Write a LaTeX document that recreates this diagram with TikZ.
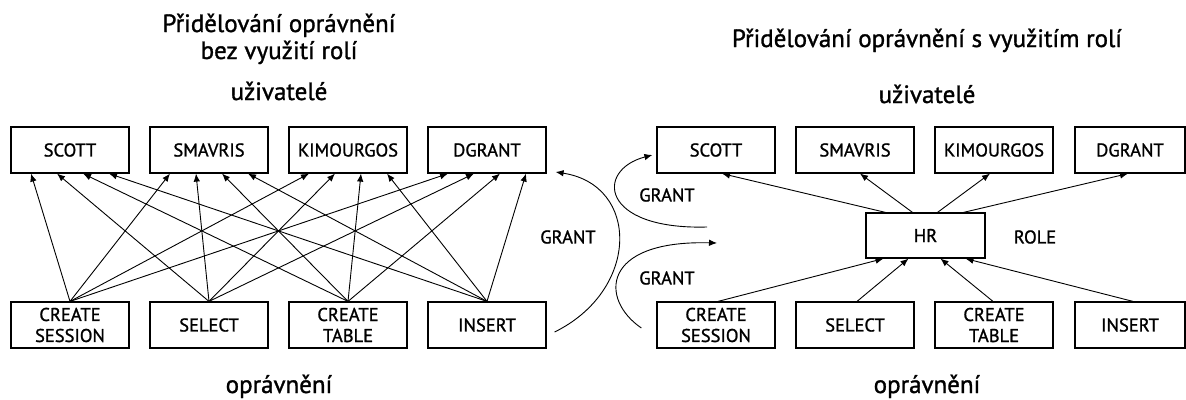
\documentclass[tikz,border=0pt]{standalone}
\usepackage{fontspec}
\setmainfont{PT Sans}[FakeBold=1.2]
\usetikzlibrary{arrows.meta,calc}
\newcommand\titlefont{\fontsize{25}{29}\selectfont}
\newcommand\boxfont{\fontsize{18.5}{21}\selectfont}
\begin{document}
\begin{tikzpicture}[x=1pt,y=-1pt,
  box/.style={draw, line width=1.2pt, minimum width=118pt, minimum height=46pt,
    inner sep=0pt, align=center, font=\boxfont},
  conn/.style={line width=0.9pt, -{Latex[length=8pt,width=6.5pt]}},
  grant/.style={line width=0.9pt, -{Latex[length=8pt,width=6.5pt]}},
  lbl/.style={font=\boxfont, inner sep=0pt},
  head/.style={font=\titlefont, inner sep=0pt, anchor=base}]
\useasboundingbox (0,0) rectangle (1186,399);

% ---------- without roles ----------
\node[head] (t1a) at (279,32) {Přidělování oprávnění};
\node[head] (t1b) at (279,59) {bez využití rolí};
\node[head] (u1) at (279,100) {uživatelé};
\node[head] (o1) at (279,393) {oprávnění};

\node[box] (scott)  at (70,150)  {SCOTT};
\node[box] (smav)   at (209,150) {SMAVRIS};
\node[box] (kimo)   at (348,150) {KIMOURGOS};
\node[box] (dgr)    at (487,150) {DGRANT};

\node[box] (sess)   at (70,325)  {CREATE\\SESSION};
\node[box] (sel)    at (209,325) {SELECT};
\node[box] (tab)    at (348,325) {CREATE\\TABLE};
\node[box] (ins)    at (487,325) {INSERT};

% each privilege goes to each user
\foreach \src [count=\i] in {sess,sel,tab,ins}{
  \pgfmathsetmacro\off{-39+26*(\i-1)}
  \foreach \dst in {scott,smav,kimo,dgr}{
    \draw[conn] (\src.north) -- ([xshift=\off pt]\dst.south);
  }
}

% GRANT arc from the privileges to the users
\coordinate (g1s) at ([xshift=8pt,yshift=-7pt]ins.east);
\coordinate (g1e) at ([xshift=9pt,yshift=-22pt]dgr.east);
\draw[grant] (g1s) .. controls (640,290) and (640,185) .. (g1e);
\node[lbl] (g1) at (568,237) {GRANT};

% ---------- with roles ----------
\node[head] (t2) at (927,47) {Přidělování oprávnění s využitím rolí};
\node[head] (u2) at (927,103) {uživatelé};
\node[head] (o2) at (927,393) {oprávnění};

\node[box] (rscott) at (716,150)  {SCOTT};
\node[box] (rsmav)  at (855,150)  {SMAVRIS};
\node[box] (rkimo)  at (994,150)  {KIMOURGOS};
\node[box, minimum width=110pt] (rdgr) at (1130,150) {DGRANT};

\node[box] (rsess)  at (716,325)  {CREATE\\SESSION};
\node[box] (rsel)   at (855,325)  {SELECT};
\node[box] (rtab)   at (994,325)  {CREATE\\TABLE};
\node[box, minimum width=110pt] (rins) at (1130,325) {INSERT};

\node[box, minimum width=119pt, minimum height=45pt] (hr) at (925.5,235.5) {HR};
\node[lbl] (role) at (1035,237) {ROLE};

% role to users
\draw[conn] ([xshift=-40pt]hr.north) -- ([xshift=6pt]rscott.south);
\draw[conn] ([xshift=-13pt]hr.north) -- ([xshift=5pt]rsmav.south);
\draw[conn] ([xshift=12pt]hr.north)  -- ([xshift=-4pt]rkimo.south);
\draw[conn] ([xshift=38pt]hr.north)  -- ([xshift=-2pt]rdgr.south);

% privileges to role
\draw[conn] ([xshift=2pt]rsess.north) -- ([xshift=-42pt]hr.south);
\draw[conn] ([xshift=2pt]rsel.north)  -- ([xshift=-17pt]hr.south);
\draw[conn] ([xshift=-1pt]rtab.north) -- ([xshift=15pt]hr.south);
\draw[conn] ([xshift=3pt]rins.north)  -- ([xshift=40pt]hr.south);

% GRANT arcs
\coordinate (g2s) at (707,227);
\coordinate (g2e) at ([xshift=-4pt,yshift=-5pt]rscott.west);
\draw[grant] (g2s) .. controls (600,230) and (595,170) .. (g2e);
\node[lbl] (g2) at (667,195) {GRANT};

\coordinate (g3s) at ([xshift=-15pt,yshift=-3pt]rsess.west);
\coordinate (g3e) at (717,243);
\draw[grant] (g3s) .. controls (600,300) and (600,240) .. (g3e);
\node[lbl] (g3) at (667,278) {GRANT};
\end{tikzpicture}
\end{document}
